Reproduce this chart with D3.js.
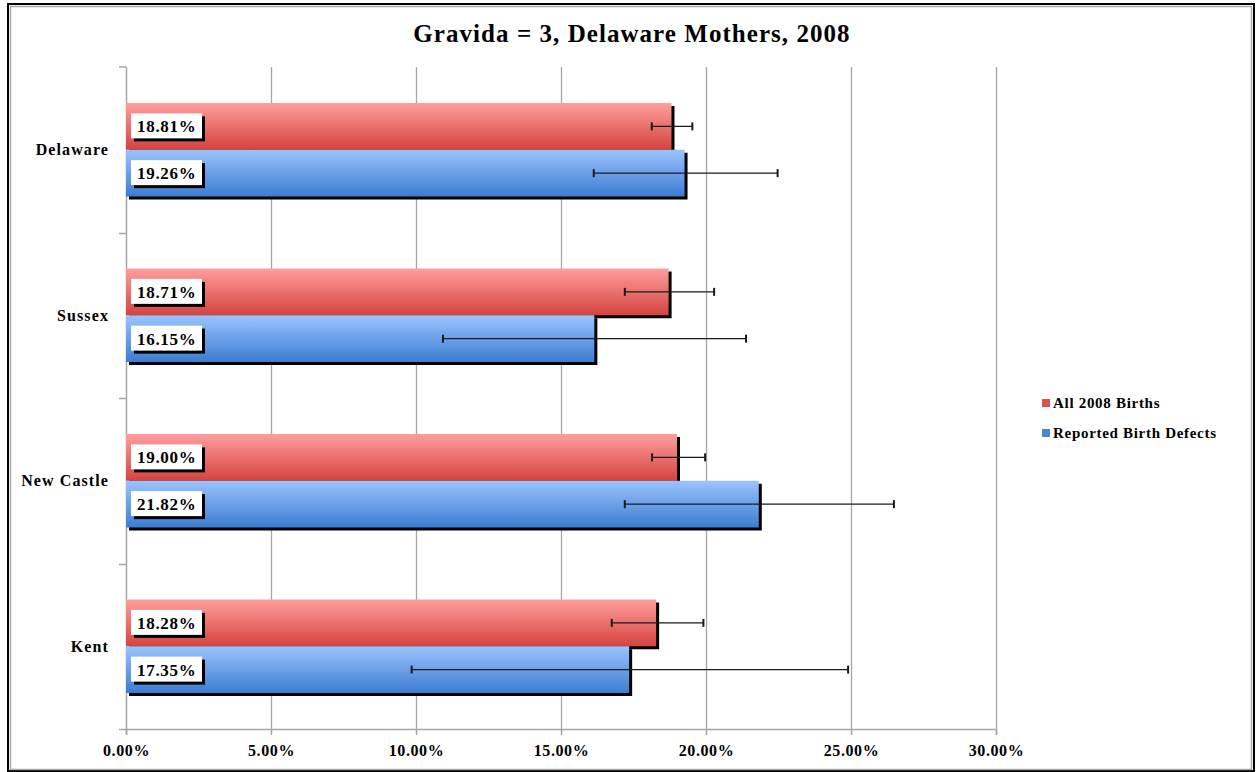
<!DOCTYPE html>
<html>
<head>
<meta charset="utf-8">
<script src="https://cdn.jsdelivr.net/npm/d3@7"></script>
<style>
  body { margin: 0; background: #fff; }
  text { font-family: "Liberation Serif", "Times New Roman", serif; font-weight: bold; fill: #000; }
</style>
</head>
<body>
<svg id="chart" width="1257" height="772"></svg>
<script>
// chart data
var categories = ["Delaware", "Sussex", "New Castle", "Kent"];
var seriesNames = ["All 2008 Births", "Reported Birth Defects"];
var allBirths = [18.81, 18.71, 19.00, 18.28];
var birthDefects = [19.26, 16.15, 21.82, 17.35];
// confidence intervals
var allBirthsLow = [18.13, 17.20, 18.14, 16.75];
var allBirthsHigh = [19.53, 20.28, 19.97, 19.91];
var defectsLow = [16.13, 10.93, 17.20, 9.85];
var defectsHigh = [22.47, 21.38, 26.48, 24.90];
var xTicks = [0, 5, 10, 15, 20, 25, 30];

var svg = d3.select("#chart");

var defs = svg.append("defs");
function grad(id, top, bottom) {
    var g = defs.append("linearGradient").attr("id", id)
        .attr("x1", 0).attr("y1", 0).attr("x2", 0).attr("y2", 1);
    g.append("stop").attr("offset", "0%").attr("stop-color", top);
    g.append("stop").attr("offset", "100%").attr("stop-color", bottom);
}
grad("gRed", "#ff9e9e", "#d4433f");
grad("gBlue", "#9cc3ff", "#3b7dd1");

// frame
svg.append("rect").attr("x", 8).attr("y", 4).attr("width", 1246).attr("height", 767)
    .attr("fill", "#fff").attr("stroke", "#000").attr("stroke-width", 2);
svg.append("rect").attr("x", 10.5).attr("y", 6.5).attr("width", 1241).attr("height", 763)
    .attr("fill", "none").attr("stroke", "#aaa").attr("stroke-width", 1.5);

var x = d3.scaleLinear().domain([0, 30]).range([126, 996]);
var y = d3.scaleBand().domain(categories).range([67, 729]).paddingInner(0.435).paddingOuter(0.2175);
var ySub = d3.scaleBand().domain(seriesNames).range([0, y.bandwidth()]);
var gap = y.step() * y.paddingInner() / 2;

// gridlines
svg.append("g").selectAll("line").data(xTicks.slice(1)).join("line")
    .attr("x1", function (d) { return x(d) + 0.5; }).attr("x2", function (d) { return x(d) + 0.5; })
    .attr("y1", 67).attr("y2", 729)
    .attr("stroke", "#a6a6a6").attr("stroke-width", 1.3);

// bottom axis
var xAxis = svg.append("g").attr("transform", "translate(0,729)")
    .call(d3.axisBottom(x).tickValues(xTicks).tickSize(6).tickPadding(10)
        .tickFormat(function (d) { return d.toFixed(2) + "%"; }));
xAxis.select(".domain").attr("stroke", "#a6a6a6").attr("stroke-width", 1.5);
xAxis.selectAll(".tick line").attr("stroke", "#a6a6a6").attr("stroke-width", 1.5);
xAxis.selectAll("text").style("font-size", "16px").style("letter-spacing", "0.6px")
    .attr("fill", "#000");

// left axis
var yAxisG = svg.append("g");
yAxisG.append("line").attr("x1", 126.5).attr("x2", 126.5).attr("y1", 67).attr("y2", 729)
    .attr("stroke", "#a6a6a6").attr("stroke-width", 1.5);
var bounds = [67].concat(categories.map(function (c) { return Math.round(y(c) + y.bandwidth() + gap) + 0.5; }));
yAxisG.selectAll("line.tk").data(bounds).join("line").attr("class", "tk")
    .attr("x1", 119).attr("x2", 126).attr("y1", function (d) { return d; }).attr("y2", function (d) { return d; })
    .attr("stroke", "#a6a6a6").attr("stroke-width", 1.5);
yAxisG.selectAll("text").data(categories).join("text")
    .attr("x", 109).attr("y", function (d) { return y(d) + y.bandwidth() / 2; })
    .attr("dy", "0.35em").attr("text-anchor", "end")
    .style("font-size", "16px").style("letter-spacing", "1.1px")
    .text(function (d) { return d; });

// bars
var rows = [];
categories.forEach(function (c, i) {
    rows.push({ cat: c, s: seriesNames[0], v: allBirths[i], lo: allBirthsLow[i], hi: allBirthsHigh[i], fill: "url(#gRed)" });
    rows.push({ cat: c, s: seriesNames[1], v: birthDefects[i], lo: defectsLow[i], hi: defectsHigh[i], fill: "url(#gBlue)" });
});

var bars = svg.append("g");
rows.forEach(function (d) {
    var y0 = y(d.cat) + ySub(d.s), h = ySub.bandwidth();
    bars.append("rect").attr("x", x(0) + 3).attr("y", y0 + 3)
        .attr("width", x(d.v) - x(0)).attr("height", h).attr("fill", "#000");
    bars.append("rect").attr("x", x(0)).attr("y", y0)
        .attr("width", x(d.v) - x(0)).attr("height", h).attr("fill", d.fill);
});

// error bars
var err = svg.append("g").attr("stroke", "#1a1a1a").attr("stroke-width", 1.3);
rows.forEach(function (d) {
    var cy = y(d.cat) + ySub(d.s) + ySub.bandwidth() / 2;
    err.append("line").attr("x1", x(d.lo)).attr("x2", x(d.hi)).attr("y1", cy).attr("y2", cy);
    err.append("line").attr("x1", x(d.lo)).attr("x2", x(d.lo)).attr("y1", cy - 4).attr("y2", cy + 4).attr("stroke-width", 2);
    err.append("line").attr("x1", x(d.hi)).attr("x2", x(d.hi)).attr("y1", cy - 4).attr("y2", cy + 4).attr("stroke-width", 2);
});

// data labels
var labels = svg.append("g");
rows.forEach(function (d) {
    var cy = y(d.cat) + ySub(d.s) + ySub.bandwidth() / 2;
    labels.append("rect").attr("x", 134).attr("y", cy - 10).attr("width", 71).attr("height", 25).attr("fill", "#000");
    labels.append("rect").attr("x", 131).attr("y", cy - 13).attr("width", 71).attr("height", 25).attr("fill", "#fff");
    labels.append("text").attr("x", 137).attr("y", cy).attr("dy", "0.35em")
        .style("font-size", "17px").style("letter-spacing", "0.7px")
        .text(d.v.toFixed(2) + "%");
});

// title
svg.append("text").attr("x", 632).attr("y", 33).attr("dy", "0.35em").attr("text-anchor", "middle")
    .style("font-size", "25px").style("letter-spacing", "1.05px")
    .text("Gravida = 3, Delaware Mothers, 2008");

// legend
var legend = svg.append("g");
var legColors = ["#d9534f", "#4a86d8"];
seriesNames.forEach(function (s, i) {
    var ly = 403 + i * 30;
    legend.append("rect").attr("x", 1042).attr("y", ly - 4).attr("width", 8).attr("height", 8).attr("fill", legColors[i]);
    legend.append("text").attr("x", 1053).attr("y", ly).attr("dy", "0.35em")
        .style("font-size", "15px").style("letter-spacing", "0.7px").text(s);
});
</script>
</body>
</html>
